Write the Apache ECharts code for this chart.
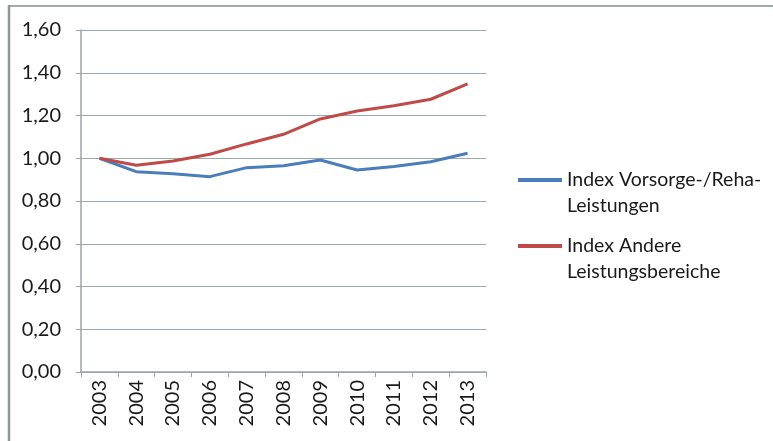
<!DOCTYPE html>
<html><head><meta charset="utf-8">
<script src="https://cdn.jsdelivr.net/npm/echarts@6/dist/echarts.min.js"></script>
<style>html,body{margin:0;padding:0;background:#fff}#c{width:773px;height:441px}</style>
</head><body><div id="c"></div>
<script>
const years = ['2003','2004','2005','2006','2007','2008','2009','2010','2011','2012','2013'];
const rehaIndex = [1.00, 0.937, 0.927, 0.914, 0.956, 0.965, 0.992, 0.945, 0.961, 0.984, 1.023];
const andereIndex = [1.00, 0.967, 0.987, 1.019, 1.067, 1.112, 1.184, 1.221, 1.246, 1.276, 1.348];
const seriesNames = ['Index Vorsorge-/Reha-Leistungen', 'Index Andere Leistungsbereiche'];
const legendLines = [['Index Vorsorge-/Reha-', 'Leistungen'], ['Index Andere', 'Leistungsbereiche']];

const FONT = 'Lato';
const chart = echarts.init(document.getElementById('c'), null, {renderer: 'canvas'});
// icon: bar at top of a 30px tall box so that it lines up with the first text line
const ICON = 'path://M0,0h44v4h-44z M0,29.99h0.01v0.01h-0.01z';
function legendFor(i, centerY) {
  return {
    data: [seriesNames[i]], left: 513, top: centerY - 17, orient: 'vertical',
    icon: ICON, itemWidth: 44, itemHeight: 30, itemGap: 0,
    formatter: () => legendLines[i].join('\n'),
    textStyle: {fontFamily: FONT, fontSize: 19.5, color: '#1a1a1a', lineHeight: 26},
    selectedMode: false
  };
}
chart.setOption({
  animation: false,
  backgroundColor: '#fff',
  graphic: [
    {type: 'line', shape: {x1: 9, y1: 6, x2: 773, y2: 6}, style: {stroke: '#a3a8ab', lineWidth: 2}, silent: true},
    {type: 'line', shape: {x1: 9, y1: 5, x2: 9, y2: 441}, style: {stroke: '#8f9696', lineWidth: 2.5}, silent: true}
  ],
  grid: {left: 81, right: 287, top: 30, bottom: 69},
  legend: [legendFor(0, 179), legendFor(1, 245)],
  xAxis: {
    type: 'category', data: years, boundaryGap: true,
    axisLine: {lineStyle: {color: '#9aa5ab', width: 1.5}},
    axisTick: {show: true, length: 5, lineStyle: {color: '#9aa5ab'}},
    axisLabel: {rotate: 90, fontFamily: FONT, fontSize: 20, color: '#1a1a1a', margin: 8}
  },
  yAxis: {
    type: 'value', min: 0, max: 1.6, interval: 0.2,
    axisLine: {show: true, lineStyle: {color: '#9aa5ab', width: 1.5}},
    axisTick: {show: true, length: 5, lineStyle: {color: '#9aa5ab'}},
    splitLine: {lineStyle: {color: '#9aa8b0', width: 1.2}},
    axisLabel: {fontFamily: FONT, fontSize: 20, color: '#1a1a1a', margin: 20,
      formatter: v => v.toFixed(2).replace('.', ',')}
  },
  series: [
    {name: seriesNames[0], type: 'line', data: rehaIndex, symbol: 'none', lineStyle: {color: '#4a7ebb', width: 3}, itemStyle: {color: '#4a7ebb'}},
    {name: seriesNames[1], type: 'line', data: andereIndex, symbol: 'none', lineStyle: {color: '#be4b48', width: 3}, itemStyle: {color: '#be4b48'}}
  ]
});
</script></body></html>
